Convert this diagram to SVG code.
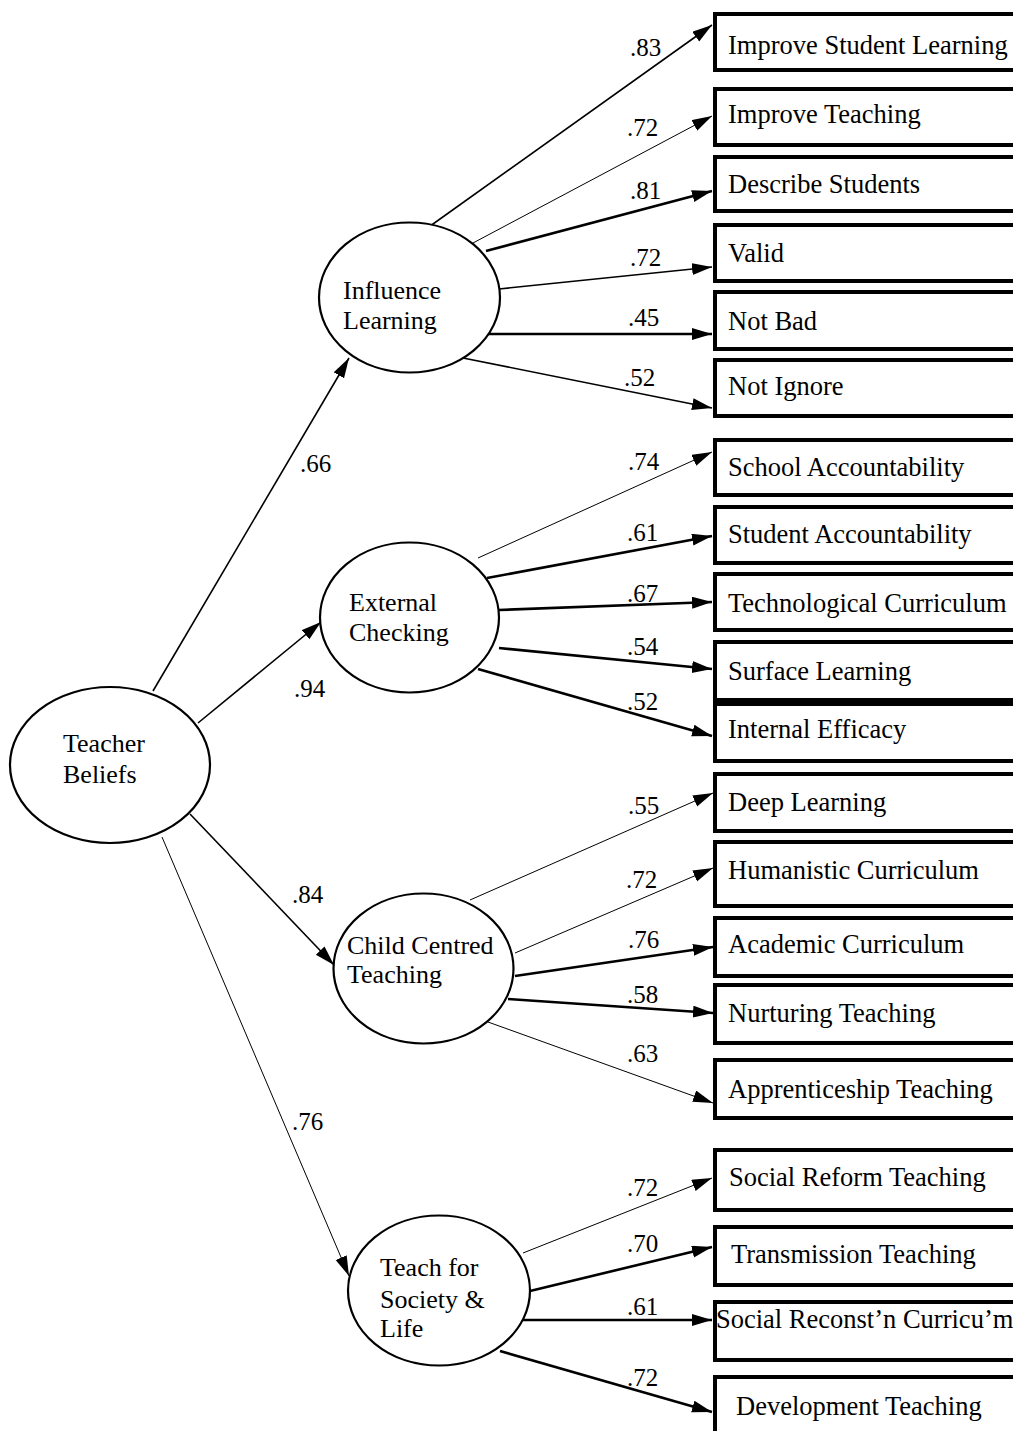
<svg xmlns="http://www.w3.org/2000/svg" width="1013" height="1431" viewBox="0 0 1013 1431" font-family="'Liberation Serif', 'Times New Roman', serif">
<style>
text{font-family:"Liberation Serif","Times New Roman",serif;fill:#000}
.bt{font-size:26.5px}
.et{font-size:26px}
.lb{font-size:25px}
.box{fill:#fff;stroke:#000;stroke-width:4}
.ell{fill:#fff;stroke:#000;stroke-width:2.2}
.c{fill:none;stroke:#000;marker-end:url(#ah)}
.t1{stroke-width:1}
.t2{stroke-width:1.6}
.t3{stroke-width:2.6}
</style>
<defs>
<marker id="ah" markerUnits="userSpaceOnUse" markerWidth="22" markerHeight="14" refX="20" refY="6" orient="auto">
<path d="M0,0 L20,6 L0,12 z" fill="#000"/>
</marker>
</defs>
<rect width="1013" height="1431" fill="#fff"/>
<g id="connectors">
<line class="c t2" x1="153" y1="691" x2="349" y2="358"/>
<line class="c t2" x1="198" y1="723" x2="321" y2="622"/>
<line class="c t2" x1="190" y1="814" x2="334" y2="965"/>
<line class="c t1" x1="162" y1="837" x2="349" y2="1276"/>
<line class="c t2" x1="426" y1="229" x2="712" y2="25"/>
<line class="c t1" x1="473" y1="243" x2="712" y2="116"/>
<line class="c t3" x1="486" y1="251" x2="712" y2="191"/>
<line class="c t2" x1="499" y1="289" x2="712" y2="267"/>
<line class="c t3" x1="485" y1="334" x2="712" y2="334"/>
<line class="c t2" x1="463" y1="358" x2="712" y2="408"/>
<line class="c t1" x1="478" y1="558" x2="712" y2="452"/>
<line class="c t3" x1="487" y1="578" x2="712" y2="536"/>
<line class="c t3" x1="499" y1="610" x2="712" y2="602"/>
<line class="c t3" x1="499" y1="648" x2="712" y2="669"/>
<line class="c t3" x1="478" y1="669" x2="712" y2="736"/>
<line class="c t1" x1="470" y1="900" x2="713" y2="793"/>
<line class="c t1" x1="515" y1="953" x2="713" y2="868"/>
<line class="c t3" x1="515" y1="976" x2="713" y2="947"/>
<line class="c t3" x1="508" y1="999" x2="713" y2="1013"/>
<line class="c t1" x1="488" y1="1022" x2="713" y2="1103"/>
<line class="c t1" x1="523" y1="1253" x2="712" y2="1178"/>
<line class="c t3" x1="530" y1="1291" x2="712" y2="1247"/>
<line class="c t3" x1="522" y1="1320" x2="712" y2="1320"/>
<line class="c t3" x1="500" y1="1351" x2="712" y2="1412"/>
</g>
<g id="labels">
<text class="lb" x="300" y="472">.66</text>
<text class="lb" x="294" y="697">.94</text>
<text class="lb" x="292" y="903">.84</text>
<text class="lb" x="292" y="1130">.76</text>
<text class="lb" x="630" y="56">.83</text>
<text class="lb" x="627" y="136">.72</text>
<text class="lb" x="630" y="199">.81</text>
<text class="lb" x="630" y="266">.72</text>
<text class="lb" x="628" y="326">.45</text>
<text class="lb" x="624" y="386">.52</text>
<text class="lb" x="628" y="470">.74</text>
<text class="lb" x="627" y="541">.61</text>
<text class="lb" x="627" y="602">.67</text>
<text class="lb" x="627" y="655">.54</text>
<text class="lb" x="627" y="710">.52</text>
<text class="lb" x="628" y="814">.55</text>
<text class="lb" x="626" y="888">.72</text>
<text class="lb" x="628" y="948">.76</text>
<text class="lb" x="627" y="1003">.58</text>
<text class="lb" x="627" y="1062">.63</text>
<text class="lb" x="627" y="1196">.72</text>
<text class="lb" x="627" y="1252">.70</text>
<text class="lb" x="627" y="1315">.61</text>
<text class="lb" x="627" y="1386">.72</text>
</g>
<g id="teacher-beliefs"><ellipse class="ell" cx="110" cy="765" rx="100" ry="78"/><text class="et" x="63" y="752">Teacher</text><text class="et" x="63" y="783">Beliefs</text></g>
<g id="influence-learning"><ellipse class="ell" cx="409.5" cy="297.5" rx="90.5" ry="75"/><text class="et" x="343" y="299">Influence</text><text class="et" x="343" y="329">Learning</text></g>
<g id="external-checking"><ellipse class="ell" cx="409.5" cy="617.5" rx="89.5" ry="75"/><text class="et" x="349" y="611">External</text><text class="et" x="349" y="641">Checking</text></g>
<g id="child-centred"><ellipse class="ell" cx="423.5" cy="968.5" rx="90" ry="75"/><text class="et" x="347" y="954">Child Centred</text><text class="et" x="347" y="983">Teaching</text></g>
<g id="teach-society"><ellipse class="ell" cx="439" cy="1290.5" rx="91" ry="75"/><text class="et" x="380" y="1276">Teach for</text><text class="et" x="380" y="1308">Society &amp;</text><text class="et" x="380" y="1337">Life</text></g>
<g id="b1"><rect class="box" x="715" y="14" width="320" height="56"/><text class="bt" x="728" y="54">Improve Student Learning</text></g>
<g id="b2"><rect class="box" x="715" y="89" width="320" height="56"/><text class="bt" x="728" y="123">Improve Teaching</text></g>
<g id="b3"><rect class="box" x="715" y="157" width="320" height="54"/><text class="bt" x="728" y="193">Describe Students</text></g>
<g id="b4"><rect class="box" x="715" y="225" width="320" height="56"/><text class="bt" x="728" y="262">Valid</text></g>
<g id="b5"><rect class="box" x="715" y="292" width="320" height="57"/><text class="bt" x="728" y="330">Not Bad</text></g>
<g id="b6"><rect class="box" x="715" y="360" width="320" height="56"/><text class="bt" x="728" y="395">Not Ignore</text></g>
<g id="b7"><rect class="box" x="715" y="440" width="320" height="55"/><text class="bt" x="728" y="476">School Accountability</text></g>
<g id="b8"><rect class="box" x="715" y="507" width="320" height="56"/><text class="bt" x="728" y="543">Student Accountability</text></g>
<g id="b9"><rect class="box" x="715" y="574" width="320" height="56"/><text class="bt" x="728" y="612">Technological Curriculum</text></g>
<g id="b10"><rect class="box" x="715" y="642" width="320" height="58"/><text class="bt" x="728" y="680">Surface Learning</text></g>
<g id="b11"><rect class="box" x="715" y="704" width="320" height="57"/><text class="bt" x="728" y="738">Internal Efficacy</text></g>
<g id="b12"><rect class="box" x="715" y="774" width="320" height="57"/><text class="bt" x="728" y="811">Deep Learning</text></g>
<g id="b13"><rect class="box" x="715" y="842" width="320" height="64"/><text class="bt" x="728" y="879">Humanistic Curriculum</text></g>
<g id="b14"><rect class="box" x="715" y="918" width="320" height="58"/><text class="bt" x="728" y="953">Academic Curriculum</text></g>
<g id="b15"><rect class="box" x="715" y="985" width="320" height="58"/><text class="bt" x="728" y="1022">Nurturing Teaching</text></g>
<g id="b16"><rect class="box" x="715" y="1060" width="320" height="58"/><text class="bt" x="728" y="1098">Apprenticeship Teaching</text></g>
<g id="b17"><rect class="box" x="715" y="1150" width="320" height="60"/><text class="bt" x="729" y="1186">Social Reform Teaching</text></g>
<g id="b18"><rect class="box" x="715" y="1227" width="320" height="58"/><text class="bt" x="731" y="1263">Transmission Teaching</text></g>
<g id="b19"><rect class="box" x="715" y="1302" width="320" height="58"/><text class="bt" x="716" y="1328">Social Reconst’n Curricu’m</text></g>
<g id="b20"><rect class="box" x="715" y="1377" width="320" height="80"/><text class="bt" x="736" y="1415">Development Teaching</text></g>
</svg>
